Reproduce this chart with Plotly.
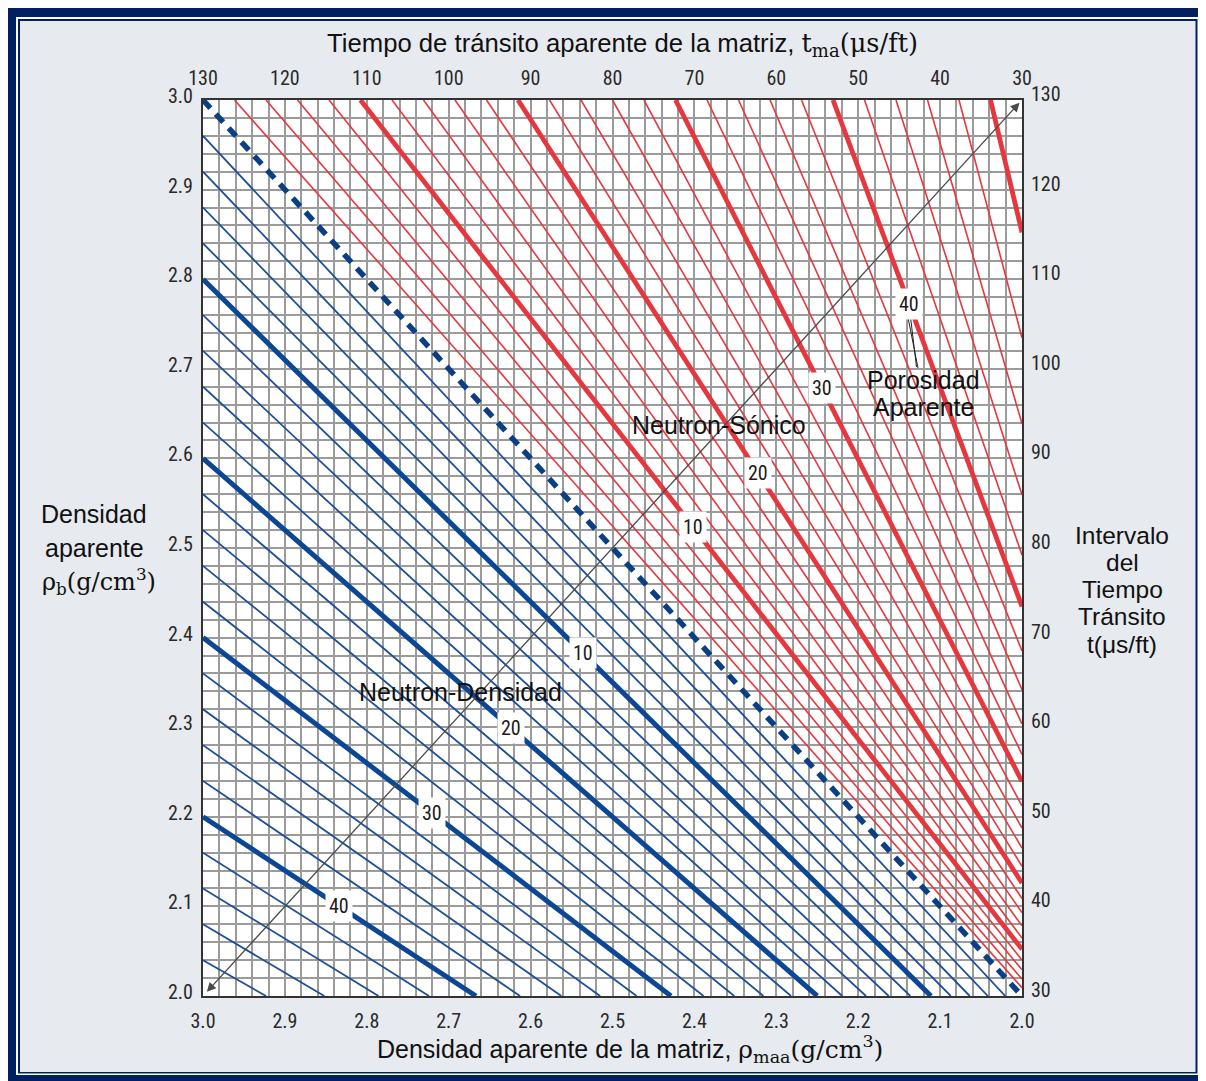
import plotly.graph_objects as go

# ---------------- data ----------------
# Neutron-Density porosity lines (fraction) : rho_b = rho_maa*(1-phi) + phi*rho_f
nd_thin_phi = [0.02, 0.04, 0.06, 0.08, 0.12, 0.14, 0.16, 0.18, 0.22, 0.24, 0.26, 0.28,
               0.32, 0.34, 0.36, 0.38, 0.42, 0.44, 0.46, 0.48]
nd_thick_phi = [0.10, 0.20, 0.30, 0.40]
rho_fluid = 1.0
# Neutron-Sonic porosity lines : phi = C*(t - tma)/t
ns_thin_phi = [0.02, 0.04, 0.06, 0.08, 0.12, 0.14, 0.16, 0.18, 0.22, 0.24, 0.26, 0.28,
               0.32, 0.34, 0.36, 0.38, 0.42, 0.44, 0.46, 0.48]
ns_thick_phi = [0.10, 0.20, 0.30, 0.40, 0.50]
C_sonic = 0.676

# label values and where they sit along the line
nd_labels = ["10", "20", "30", "40"]
nd_label_rhomaa = [2.536, 2.624, 2.720, 2.834]
ns_labels = ["10", "20", "30", "40"]
ns_label_tma = [70.2, 62.2, 54.4, 43.8]

rho_ticks = [2.0, 2.1, 2.2, 2.3, 2.4, 2.5, 2.6, 2.7, 2.8, 2.9, 3.0]
t_ticks = [30, 40, 50, 60, 70, 80, 90, 100, 110, 120, 130]

RHO_MIN, RHO_MAX = 2.0, 3.0
T_MIN, T_MAX = 30, 130

# ---------------- geometry (pixels, reference coordinates) ----------------
OFF = 8  # page body margin
W, H = 1206 - OFF, 1081 - OFF
L, R, T, B = 203, 1022, 100, 996


def px(xp):
    return (xp - L) / (R - L)


def py(yp):
    return (B - yp) / (B - T)


BLUE = "#1d4f98"
BLUE_THICK = "#0c4796"
RED = "#e6373e"
FONT = "Liberation Sans, Arial, sans-serif"
NARROW = "Liberation Sans Narrow, Roboto Condensed, Arial Narrow, sans-serif"
SERIF_SPAN = "<span style='font-family:DejaVu Serif'>"


def nd_segment(phi):
    x0 = RHO_MAX
    y0 = x0 * (1 - phi) + phi * rho_fluid
    y1 = RHO_MIN
    x1 = (y1 - phi * rho_fluid) / (1 - phi)
    return [x0, x1], [y0, y1]


def ns_segment(phi):
    k = 1.0 / (1 - phi / C_sonic)  # t = k * tma
    t0 = T_MAX
    x0 = t0 / k
    x1 = T_MIN
    t1 = x1 * k
    return [x0, x1], [t0, t1]


def collect(phis, fn):
    xs, ys = [], []
    for p in phis:
        a, b = fn(p)
        xs += a + [None]
        ys += b + [None]
    return xs, ys


fig = go.Figure()

x, y = collect(nd_thin_phi, nd_segment)
fig.add_trace(go.Scatter(x=x, y=y, mode="lines", line=dict(color=BLUE, width=1.8),
                         xaxis="x", yaxis="y", hoverinfo="skip", showlegend=False))
x, y = collect(nd_thick_phi, nd_segment)
fig.add_trace(go.Scatter(x=x, y=y, mode="lines", line=dict(color=BLUE_THICK, width=5),
                         xaxis="x", yaxis="y", hoverinfo="skip", showlegend=False))
x, y = collect(ns_thin_phi, ns_segment)
fig.add_trace(go.Scatter(x=x, y=y, mode="lines", line=dict(color=RED, width=1.6),
                         xaxis="x2", yaxis="y2", hoverinfo="skip", showlegend=False))
x, y = collect(ns_thick_phi, ns_segment)
fig.add_trace(go.Scatter(x=x, y=y, mode="lines", line=dict(color=RED, width=4.8),
                         xaxis="x2", yaxis="y2", hoverinfo="skip", showlegend=False))
fig.add_trace(go.Scatter(x=[RHO_MAX, RHO_MIN], y=[RHO_MAX, RHO_MIN], mode="lines",
                         line=dict(color="#0b3f85", width=5.5, dash="11px,8px"),
                         xaxis="x", yaxis="y", hoverinfo="skip", showlegend=False))

# ---------------- frame shapes ----------------
shapes = []


def rect(x0, y0, x1, y1, color):
    shapes.append(dict(type="rect", xref="paper", yref="paper",
                       x0=px(x0), x1=px(x1), y0=py(y1), y1=py(y0),
                       fillcolor=color, line=dict(width=0), layer="below"))


NAVY = "#002060"
rect(4, 6, 1206, 1081, NAVY)
rect(16, 17, 1200, 1075, "#ffffff")
rect(18, 19, 1197.5, 1073.5, NAVY)
rect(20, 21, 1195.5, 1072, "#e7eaee")
rect(L, T, R, B, "#ffffff")

for (xa, ya, xb, yb) in [(907.5, 315, 918, 368), (910.5, 317, 916.5, 367)]:
    shapes.append(dict(type="line", xref="paper", yref="paper",
                       x0=px(xa), y0=py(ya), x1=px(xb), y1=py(yb),
                       line=dict(color="#222222", width=1)))

# ---------------- annotations ----------------
ann = []

ann.append(dict(x=2.003, y=2.997, ax=2.997, ay=2.003, xref="x", yref="y", axref="x", ayref="y",
                text="", showarrow=True, arrowside="end+start", arrowhead=2, arrowsize=1.4,
                arrowwidth=1.3, arrowcolor="#4a4a4a", standoff=0, startstandoff=0))

label_font = dict(family=NARROW, size=20, color="#1a1a1a")
for lab, rm, phi in zip(nd_labels, nd_label_rhomaa, nd_thick_phi):
    rb = rm * (1 - phi) + phi * rho_fluid
    ann.append(dict(x=rm, y=rb, xref="x", yref="y", text=lab, showarrow=False,
                    bgcolor="#ffffff", font=label_font, borderpad=3))
for lab, tm, phi in zip(ns_labels, ns_label_tma, ns_thick_phi):
    tt = tm / (1 - phi / C_sonic)
    ann.append(dict(x=tm, y=tt, xref="x2", yref="y2", text=lab, showarrow=False,
                    bgcolor="#ffffff", font=label_font, borderpad=3))


def ptext(text, xp, yp, size=25, family=FONT, color="#111111", **kw):
    ann.append(dict(x=px(xp), y=py(yp), xref="paper", yref="paper", text=text,
                    showarrow=False, font=dict(family=family, size=size, color=color),
                    xanchor="center", yanchor="middle", **kw))


ptext("Neutron-Densidad", 460, 692)
ptext("Neutron-Sónico", 719, 425)
ptext("Porosidad", 923, 380)
ptext("Aparente", 923, 407)

ptext("Tiempo de tránsito aparente de la matriz, "
      + SERIF_SPAN + "t<sub>ma</sub>(μs/ft)</span>",
      622, 45, size=25.7)
ptext("Densidad aparente de la matriz, "
      + SERIF_SPAN + "ρ<sub>maa</sub>(g/cm<sup>3</sup>)</span>",
      630, 1049, size=25)

ptext("Densidad", 94, 514)
ptext("aparente", 94, 548)
ptext(SERIF_SPAN + "ρ<sub>b</sub>(g/cm<sup>3</sup>)</span>", 99, 581, size=24)

for txt, yy in [("Intervalo", 535), ("del", 562), ("Tiempo", 589), ("Tránsito", 616), ("t(μs/ft)", 644)]:
    ptext(txt, 1122, yy, size=24.5)

# ---------------- axes ----------------
grid_color = "#9b9b9b"
tick_font = dict(family=NARROW, size=20, color="#2a2a2a")

fig.update_layout(
    width=W, height=H,
    margin=dict(l=L - OFF, r=W - (R - OFF), t=T - OFF, b=H - (B - OFF), pad=0),
    paper_bgcolor="#ffffff",
    plot_bgcolor="rgba(0,0,0,0)",
    showlegend=False,
    shapes=shapes,
    annotations=ann,
    xaxis=dict(range=[RHO_MAX, RHO_MIN], tickmode="array", tickvals=rho_ticks,
               ticktext=[f"{v:.1f}" for v in rho_ticks], tickfont=tick_font,
               showgrid=True, gridcolor=grid_color, gridwidth=1.5,
               minor=dict(dtick=0.02, tick0=2.0, showgrid=True, gridcolor=grid_color, gridwidth=1.5, ticks=""),
               showline=True, linecolor="#333333", linewidth=2, mirror=True,
               zeroline=False, ticks="", ticklabelstandoff=6),
    yaxis=dict(range=[RHO_MIN, RHO_MAX], tickmode="array", tickvals=rho_ticks,
               ticktext=[f"{v:.1f}" for v in rho_ticks], tickfont=tick_font,
               showgrid=True, gridcolor=grid_color, gridwidth=1.5,
               minor=dict(dtick=0.02, tick0=2.0, showgrid=True, gridcolor=grid_color, gridwidth=1.5, ticks=""),
               showline=True, linecolor="#333333", linewidth=2, mirror=True,
               zeroline=False, ticks="", ticklabelstandoff=4, ticklabelshift=-4),
    xaxis2=dict(range=[T_MAX, T_MIN], overlaying="x", side="top", tickmode="array",
                tickvals=t_ticks, ticktext=[str(v) for v in t_ticks], tickfont=tick_font,
                showgrid=False, zeroline=False, showline=False, ticks="", ticklabelstandoff=10),
    yaxis2=dict(range=[T_MIN, T_MAX], overlaying="y", side="right", tickmode="array",
                tickvals=t_ticks, ticktext=[str(v) for v in t_ticks], tickfont=tick_font,
                showgrid=False, zeroline=False, showline=False, ticks="", ticklabelstandoff=8,
                ticklabelshift=-6),
)

fig.write_html("out.html")
